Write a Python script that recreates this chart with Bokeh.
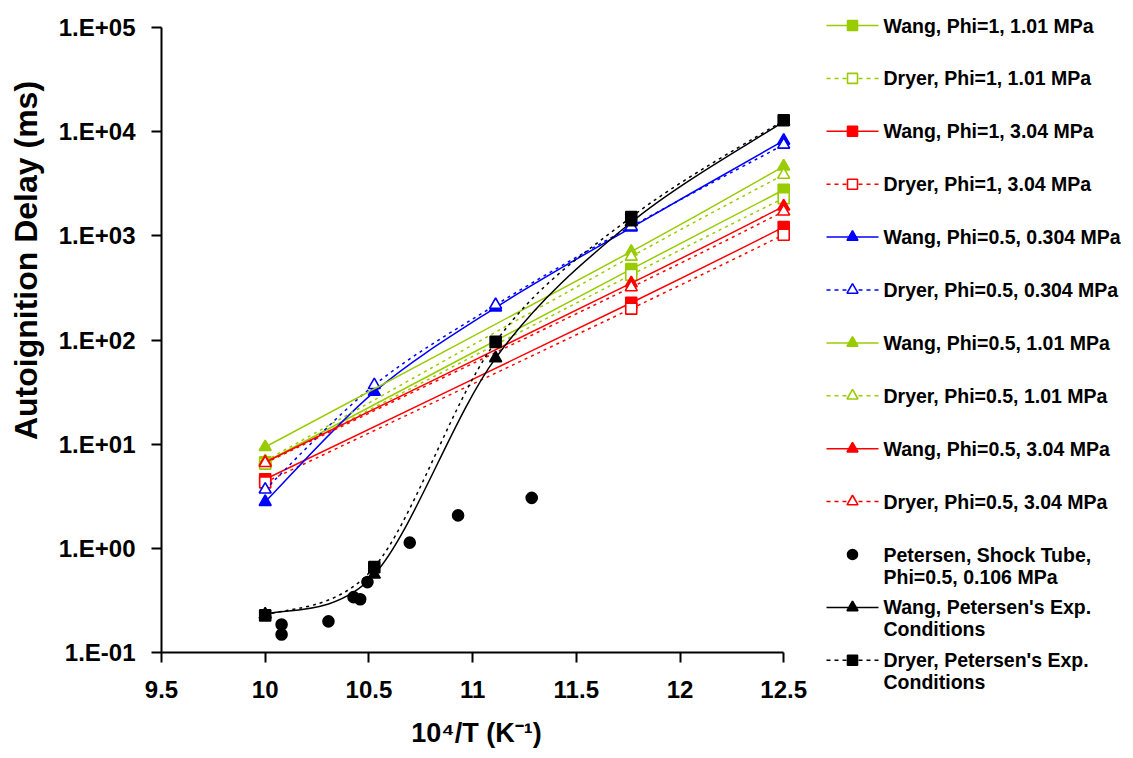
import numpy as np
from bokeh.plotting import figure
from bokeh.layouts import row, column
from bokeh.models import Range1d, FixedTicker
from bokeh.embed import file_html
from bokeh.resources import INLINE
from bokeh.core.properties import value

# ---------------- data ----------------
x5 = [10.0, 10.526, 11.111, 11.765, 12.5]
x3 = [10.0, 11.765, 12.5]

wang_phi1_101 = [6.7, 479, 2770]
dryer_phi1_101 = [6.5, 422, 2300]
wang_phi1_304 = [4.6, 228, 1213]
dryer_phi1_304 = [4.3, 200, 1023]
wang_phi05_0304 = [2.79, 31.8, 205, 1200, 8200]
dryer_phi05_0304 = [3.67, 36.9, 217, 1230, 7500]
wang_phi05_101 = [9.4, 706, 4640]
dryer_phi05_101 = [6.9, 631, 3860]
wang_phi05_304 = [6.7, 351, 1915]
dryer_phi05_304 = [6.6, 321, 1713]
petersen_x = [10.079, 10.079, 10.305, 10.426, 10.458, 10.493, 10.697, 10.930, 11.285]
petersen_y = [0.186, 0.149, 0.199, 0.34, 0.324, 0.474, 1.135, 2.07, 3.05]
wang_pet = [0.232, 0.56, 67, 1350, 12500]
dryer_pet = [0.227, 0.66, 96, 1513, 12850]

x_tick_values = [9.5, 10.0, 10.5, 11.0, 11.5, 12.0, 12.5]
x_tick_labels = ["9.5", "10", "10.5", "11", "11.5", "12", "12.5"]
y_tick_values = [0.1, 1, 10, 100, 1000, 10000, 100000]
y_tick_labels = ["1.E-01", "1.E+00", "1.E+01", "1.E+02", "1.E+03", "1.E+04", "1.E+05"]

legend_labels = [
    "Wang, Phi=1, 1.01 MPa",
    "Dryer, Phi=1, 1.01 MPa",
    "Wang, Phi=1, 3.04 MPa",
    "Dryer, Phi=1, 3.04 MPa",
    "Wang, Phi=0.5, 0.304 MPa",
    "Dryer, Phi=0.5, 0.304 MPa",
    "Wang, Phi=0.5, 1.01 MPa",
    "Dryer, Phi=0.5, 1.01 MPa",
    "Wang, Phi=0.5, 3.04 MPa",
    "Dryer, Phi=0.5, 3.04 MPa",
    "Petersen, Shock Tube,\nPhi=0.5, 0.106 MPa",
    "Wang, Petersen's Exp.\nConditions",
    "Dryer, Petersen's Exp.\nConditions",
]

x_title = "10\u2074/T (K\u207b\u00b9)"
y_title = "Autoignition Delay (ms)"

# ---------------- styles ----------------
GREEN = "#99CC00"
RED = "#FF0000"
BLUE = "#0000FF"
BLACK = "#000000"
DOT = "3 4"
FONT = "Liberation Sans"

series = [
    # xs, ys, color, dashed, marker, filled
    (x3, wang_phi1_101, GREEN, False, "square", True),
    (x3, dryer_phi1_101, GREEN, True, "square", False),
    (x3, wang_phi1_304, RED, False, "square", True),
    (x3, dryer_phi1_304, RED, True, "square", False),
    (x5, wang_phi05_0304, BLUE, False, "triangle", True),
    (x5, dryer_phi05_0304, BLUE, True, "triangle", False),
    (x3, wang_phi05_101, GREEN, False, "triangle", True),
    (x3, dryer_phi05_101, GREEN, True, "triangle", False),
    (x3, wang_phi05_304, RED, False, "triangle", True),
    (x3, dryer_phi05_304, RED, True, "triangle", False),
    (petersen_x, petersen_y, BLACK, None, "circle", True),
    (x5, wang_pet, BLACK, False, "triangle", True),
    (x5, dryer_pet, BLACK, True, "square", True),
]

MSIZE = {"square": 11, "triangle": 12, "circle": 11}

# ---------------- layout (page pixels) ----------------
H = 756
FRAME_TOP, FRAME_H = 27, 625
FRAME_LEFT, FRAME_W = 161, 630
W0 = 48                       # y-title strip
W1 = 823 - W0                 # main plot
W2 = 1130 - 823               # legend strip
PX_PER_UNIT = 207.4
x_end = 9.5 + FRAME_W / PX_PER_UNIT

# --- y title strip ---
yt = figure(width=W0, height=H, output_backend="svg", toolbar_location=None,
            x_range=Range1d(0, W0), y_range=Range1d(FRAME_TOP + FRAME_H, FRAME_TOP),
            x_axis_location=None, y_axis_location=None, title=None,
            min_border_left=0, min_border_right=0,
            min_border_top=FRAME_TOP, min_border_bottom=H - FRAME_TOP - FRAME_H)
yt.outline_line_color = None
yt.grid.grid_line_color = None
yt.text(x=[25], y=[260], text=[y_title], angle=np.pi / 2, text_align="center",
        text_baseline="middle", text_font=value(FONT), text_font_style="bold",
        text_font_size="32px", text_color="black")

# --- main plot ---
p = figure(width=W1, height=H, output_backend="svg", toolbar_location=None,
           y_axis_type="log", x_range=Range1d(9.5, x_end), y_range=Range1d(0.1, 1e5),
           min_border_left=FRAME_LEFT - W0, min_border_right=W1 - (FRAME_LEFT - W0) - FRAME_W,
           min_border_top=FRAME_TOP, min_border_bottom=H - FRAME_TOP - FRAME_H, title=None)
p.outline_line_color = None
p.grid.grid_line_color = None

for ax in (p.xaxis, p.yaxis):
    ax.axis_line_width = 2
    ax.major_tick_line_width = 2
    ax.major_tick_in = 0
    ax.major_tick_out = 10
    ax.minor_tick_line_color = None
    ax.major_label_text_font = FONT
    ax.major_label_text_font_style = "bold"
    ax.major_label_text_font_size = "24px"
    ax.major_label_text_color = "black"
    ax.axis_line_color = "black"
    ax.major_tick_line_color = "black"

p.xaxis.ticker = FixedTicker(ticks=x_tick_values)
p.xaxis.major_label_overrides = {v: l for v, l in zip(x_tick_values, x_tick_labels)}
p.xaxis.bounds = (9.5, 12.5)
p.xaxis.major_label_standoff = 18
p.xaxis.axis_label = x_title
p.xaxis.axis_label_standoff = 17
p.xaxis.axis_label_text_font = FONT
p.xaxis.axis_label_text_font_style = "bold"
p.xaxis.axis_label_text_font_size = "27px"
p.xaxis.axis_label_text_color = "black"
p.yaxis.ticker = FixedTicker(ticks=y_tick_values)
p.yaxis.major_label_overrides = {v: l for v, l in zip(y_tick_values, y_tick_labels)}
p.yaxis.major_label_standoff = 16


def smooth(xs, ys):
    lx = np.asarray(xs, float)
    ly = np.log10(np.asarray(ys, float))
    qx = np.concatenate([[lx[0]], lx, [lx[-1]]])
    qy = np.concatenate([[ly[0]], ly, [ly[-1]]])
    i = np.arange(len(lx) - 1)
    c0x = lx[i] + (qx[i + 2] - qx[i]) / 6
    c0y = ly[i] + (qy[i + 2] - qy[i]) / 6
    c1x = lx[i + 1] - (qx[i + 3] - qx[i + 1]) / 6
    c1y = ly[i + 1] - (qy[i + 3] - qy[i + 1]) / 6
    return dict(x0=lx[:-1], y0=10 ** ly[:-1], x1=lx[1:], y1=10 ** ly[1:],
                cx0=c0x, cy0=10 ** c0y, cx1=c1x, cy1=10 ** c1y)


for xs, ys, color, dashed, marker, filled in series:
    if dashed is not None:
        p.bezier(line_color=color, line_width=1.5,
                 line_dash=DOT if dashed else "solid", **smooth(xs, ys))
    p.scatter(xs, ys, marker=marker, size=MSIZE[marker],
              fill_color=color if filled else "white",
              line_color=color, line_width=1.6)

# --- legend strip ---
lg = figure(width=W2, height=H, output_backend="svg", toolbar_location=None,
            x_range=Range1d(823, 823 + W2), y_range=Range1d(H, 0),
            x_axis_location=None, y_axis_location=None, title=None,
            min_border_left=0, min_border_right=0,
            min_border_top=0, min_border_bottom=0)
lg.outline_line_color = None
lg.grid.grid_line_color = None

LX0, LX1, LM, LT = 826, 878, 852, 883
LY0, LDY, LINE2 = 25, 52.9, 22
for k, ((xs, ys, color, dashed, marker, filled), label) in enumerate(zip(series, legend_labels)):
    yc = LY0 + LDY * k
    if dashed is not None:
        lg.line([LX0, LX1], [yc, yc], line_color=color, line_width=1.5,
                line_dash="4 4" if dashed else "solid")
    lg.scatter([LM], [yc], marker=marker, size=MSIZE[marker] - 1,
               fill_color=color if filled else "white", line_color=color, line_width=1.6)
    for j, part in enumerate(label.split("\n")):
        lg.text(x=[LT], y=[yc + LINE2 * j], text=[part], text_font=value(FONT),
                text_font_style="bold", text_font_size="19.5px",
                text_baseline="middle", text_align="left", text_color="black")

layout = row(yt, p, column(lg))
open("out.html", "w").write(file_html(layout, INLINE))
